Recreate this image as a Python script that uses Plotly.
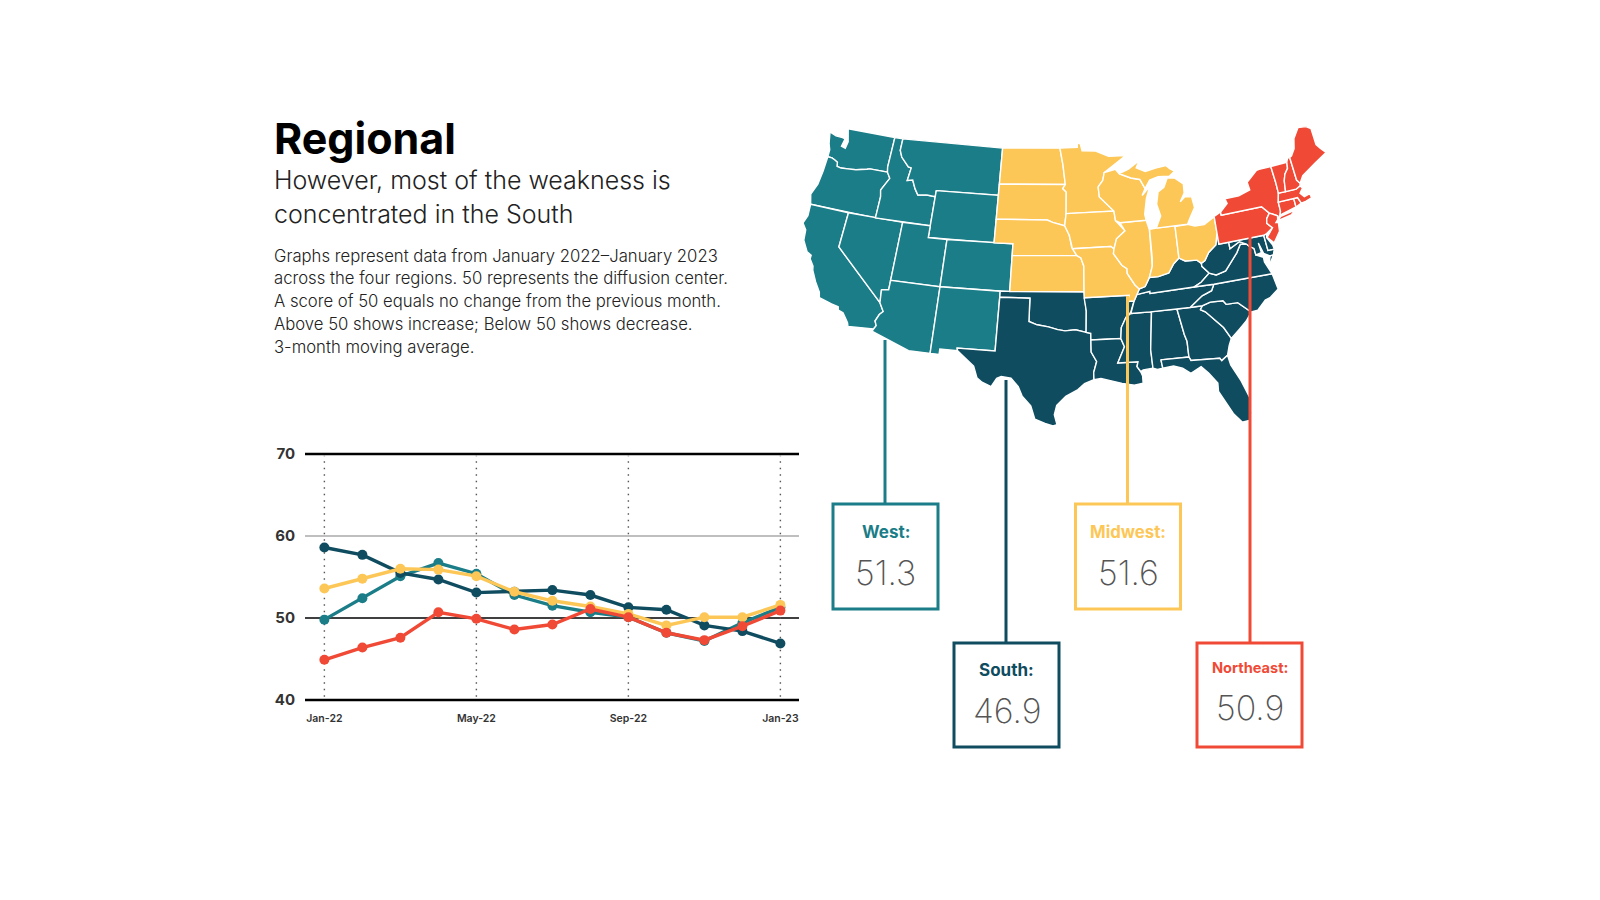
import numpy as np
import plotly.graph_objects as go

# ---------- line chart data ----------
months = ["Jan-22","Feb-22","Mar-22","Apr-22","May-22","Jun-22","Jul-22","Aug-22","Sep-22","Oct-22","Nov-22","Dec-22","Jan-23"]
tick_labels = ["Jan-22","May-22","Sep-22","Jan-23"]
y_ticks = [40,50,60,70]
west = [49.8,52.4,55.1,56.7,55.4,52.8,51.5,50.7,50.1,48.2,47.2,49.4,51.3]
south = [58.6,57.7,55.5,54.7,53.1,53.2,53.4,52.8,51.3,51.0,49.1,48.4,46.9]
midwest = [53.6,54.8,56.0,55.9,55.1,53.2,52.1,51.4,50.5,49.1,50.1,50.1,51.6]
northeast = [44.9,46.4,47.6,50.7,49.9,48.6,49.2,51.1,50.1,48.2,47.3,49.0,50.9]

regions = ["West","South","Midwest","Northeast"]
latest = ["51.3","46.9","51.6","50.9"]
colors = {"West":"#1a7d87","South":"#0f4c60","Midwest":"#fdc757","Northeast":"#f04a36"}

# ---------- state outlines (lon, lat) ----------
WA=[(-124.73,48.38),(-123.9,48.17),(-123.1,48.15),(-122.75,48.1),(-122.9,47.4),(-122.4,47.3),(-122.3,47.9),(-122.5,48.5),(-122.76,49),(-117.03,49),(-117.04,46.42),(-116.92,45.99),(-118.98,46),(-119.3,45.93),(-120.5,45.7),(-121.2,45.65),(-122.2,45.58),(-122.7,45.65),(-122.8,46),(-123.2,46.15),(-123.55,46.26),(-124.05,46.27),(-124.1,46.9),(-124.4,47.4)]
OR=[(-124.05,46.27),(-123.55,46.26),(-123.2,46.15),(-122.8,46),(-122.7,45.65),(-122.2,45.58),(-121.2,45.65),(-120.5,45.7),(-119.3,45.93),(-118.98,46),(-116.92,45.99),(-116.5,45.5),(-116.85,44.95),(-117.2,44.4),(-117.03,43.85),(-117.03,42),(-124.21,42),(-124.55,42.84),(-124.15,43.8),(-124.05,45)]
CA=[(-124.21,42),(-120,42),(-120,39),(-114.63,35),(-114.14,34.3),(-114.45,34),(-114.72,33.4),(-114.52,33.03),(-114.72,32.72),(-117.12,32.53),(-117.25,32.85),(-117.9,33.6),(-118.4,33.75),(-118.5,34.03),(-119.2,34.15),(-120.5,34.45),(-120.65,34.9),(-121.3,35.7),(-121.9,36.6),(-122,36.95),(-122.5,37.5),(-122.5,37.8),(-123,38),(-123.7,38.9),(-123.85,39.8),(-124.35,40.3),(-124.1,41)]
NV=[(-120,42),(-114.04,42),(-114.05,37),(-114.05,36.2),(-114.75,36.1),(-114.63,35),(-120,39)]
ID=[(-117.03,49),(-116.05,49),(-116.05,48),(-115.7,47.45),(-114.7,46.7),(-114.35,46.65),(-114.5,45.55),(-113.9,45.65),(-113.45,44.95),(-113,44.45),(-112,44.54),(-111.05,44.48),(-111.05,42),(-117.03,42),(-117.03,43.85),(-117.2,44.4),(-116.85,44.95),(-116.5,45.5),(-116.92,45.99),(-117.04,46.42)]
MT=[(-116.05,49),(-104.05,49),(-104.05,45),(-111.05,45),(-111.05,44.48),(-112,44.54),(-113,44.45),(-113.45,44.95),(-113.9,45.65),(-114.5,45.55),(-114.35,46.65),(-114.7,46.7),(-115.7,47.45),(-116.05,48)]
WY=[(-111.05,45),(-104.05,45),(-104.05,41),(-111.05,41)]
UT=[(-114.05,42),(-111.05,42),(-111.05,41),(-109.05,41),(-109.05,37),(-114.05,37)]
CO=[(-109.05,41),(-102.05,41),(-102.05,37),(-109.05,37)]
AZ=[(-114.75,36.1),(-114.05,36.2),(-114.05,37),(-109.05,37),(-109.05,31.33),(-111.07,31.33),(-114.81,32.5),(-114.72,32.72),(-114.52,33.03),(-114.72,33.4),(-114.45,34),(-114.14,34.3),(-114.63,35)]
NM=[(-109.05,37),(-103,37),(-103.04,32),(-106.62,32),(-106.53,31.78),(-108.21,31.78),(-108.21,31.33),(-109.05,31.33)]
ND=[(-104.05,49),(-97.23,49),(-96.85,47.6),(-96.56,45.93),(-104.05,45.94)]
SD=[(-104.05,45.94),(-96.56,45.93),(-96.85,45.6),(-96.45,45.3),(-96.45,43.5),(-96.6,42.5),(-97.9,42.8),(-98.5,43),(-104.05,43)]
NE=[(-104.05,43),(-98.5,43),(-97.9,42.8),(-96.6,42.5),(-96.1,41.7),(-95.85,40.7),(-95.31,40),(-102.05,40),(-102.05,41),(-104.05,41)]
KS=[(-102.05,40),(-95.31,40),(-94.9,39.8),(-94.6,39.1),(-94.62,37),(-102.05,37)]
OK=[(-103,37),(-94.62,37),(-94.43,35.4),(-94.48,33.64),(-95.5,33.88),(-96.5,33.8),(-97.2,33.9),(-98.1,34.13),(-99.2,34.3),(-100,34.56),(-100,36.5),(-103,36.5)]
TX=[(-106.62,32),(-103.04,32),(-103,36.5),(-100,36.5),(-100,34.56),(-99.2,34.3),(-98.1,34.13),(-97.2,33.9),(-96.5,33.8),(-95.5,33.88),(-94.48,33.64),(-94.04,33.55),(-94.04,33),(-94.04,32),(-93.55,31.2),(-93.85,30.3),(-93.84,29.7),(-94.7,29.4),(-95.3,28.9),(-96.4,28.35),(-97.2,27.6),(-97.4,26.8),(-97.15,25.96),(-97.5,25.85),(-98.2,26.05),(-99.1,26.4),(-99.5,27.5),(-100.3,28.3),(-100.7,29.1),(-101.4,29.77),(-102.3,29.88),(-102.7,29.7),(-103.15,28.98),(-104,29.3),(-104.5,29.65),(-104.9,30.6),(-106,31.4),(-106.53,31.78)]
MN=[(-97.23,49),(-95.15,49),(-95.15,49.38),(-94.8,49.3),(-94.6,48.7),(-93,48.6),(-91.5,48.07),(-89.5,48),(-92.1,46.75),(-92.3,46.1),(-92.85,45.6),(-92.75,44.75),(-91.22,43.5),(-96.45,43.5),(-96.45,45.3),(-96.85,45.6),(-96.56,45.93),(-96.85,47.6)]
IA=[(-96.45,43.5),(-91.22,43.5),(-91.1,42.7),(-90.15,41.8),(-91.1,41.2),(-91.42,40.38),(-91.73,40.61),(-95.77,40.58),(-96.1,41.7),(-96.6,42.5)]
MO=[(-95.77,40.58),(-91.73,40.61),(-91.42,40.38),(-91.5,40),(-90.7,39),(-90.2,38.7),(-90.2,38.3),(-89.5,37.3),(-89.1,36.95),(-89.4,36.5),(-89.7,36),(-90.37,36),(-90.15,36.5),(-94.62,36.5),(-94.62,37),(-94.6,39.1),(-94.9,39.8),(-95.31,40)]
AR=[(-94.62,36.5),(-90.15,36.5),(-90.37,36),(-89.7,36),(-90.1,35.1),(-90.6,34.7),(-91.1,33.9),(-91.2,33),(-94.04,33),(-94.04,33.55),(-94.48,33.64),(-94.43,35.4)]
LA=[(-94.04,33),(-91.2,33),(-90.9,32.3),(-91.6,31),(-89.73,31),(-89.85,30.6),(-89.55,30.18),(-89.4,29.8),(-89.4,29.2),(-90.2,29.1),(-91.3,29.3),(-92.2,29.55),(-93.2,29.78),(-93.84,29.7),(-93.85,30.3),(-93.55,31.2),(-94.04,32)]
MS=[(-90.1,35),(-88.2,35),(-88.1,34.9),(-88.47,31.9),(-88.4,30.37),(-89.3,30.3),(-89.55,30.18),(-89.85,30.6),(-89.73,31),(-91.6,31),(-90.9,32.3),(-91.2,33),(-91.1,33.9),(-90.6,34.7)]
AL=[(-88.2,35),(-85.6,35),(-85.18,32.87),(-85,32.3),(-85,31),(-87.6,31),(-87.5,30.3),(-88,30.25),(-88.4,30.37),(-88.47,31.9),(-88.1,34.9)]
GA=[(-85.6,35),(-83.1,35),(-83.35,34.7),(-82.9,34.48),(-81.9,33.5),(-81.4,33),(-80.85,32.03),(-81.15,31.5),(-81.45,30.72),(-82.05,30.36),(-82.2,30.57),(-84.86,30.7),(-85,31),(-85,32.3),(-85.18,32.87)]
FL=[(-87.6,31),(-85,31),(-84.86,30.7),(-82.2,30.57),(-82.05,30.36),(-81.45,30.72),(-81.3,29.9),(-80.6,28.5),(-80.05,26.9),(-80.15,25.75),(-80.4,25.2),(-81.1,25.15),(-81.75,25.95),(-82.2,26.9),(-82.75,27.9),(-82.7,28.6),(-83.4,29.5),(-84,30.1),(-85,29.65),(-85.7,30.15),(-86.5,30.4),(-87.5,30.3)]
SC=[(-83.35,34.7),(-83.1,35),(-82.3,35.2),(-81.05,35.15),(-80.8,34.82),(-79.67,34.8),(-78.55,33.86),(-79.2,33.2),(-79.9,32.7),(-80.85,32.03),(-81.4,33),(-81.9,33.5),(-82.9,34.48)]
NC=[(-84.32,34.99),(-83.1,35),(-82.3,35.2),(-81.05,35.15),(-80.8,34.82),(-79.67,34.8),(-78.55,33.86),(-77.9,33.9),(-77,34.6),(-76.5,34.7),(-75.55,35.25),(-75.8,36.55),(-81.68,36.59),(-82,36.1),(-83,35.8)]
TN=[(-90.1,35),(-88.2,35),(-84.32,34.99),(-83,35.8),(-82,36.1),(-81.68,36.59),(-83.68,36.6),(-88.07,36.5),(-88.07,36.68),(-89.4,36.5),(-89.7,36)]
KY=[(-89.4,36.5),(-88.07,36.68),(-88.07,36.5),(-83.68,36.6),(-82.9,36.9),(-81.97,37.54),(-82.6,38.17),(-82.6,38.42),(-83,38.73),(-84.2,38.8),(-84.8,39.1),(-85.4,38.7),(-86,38),(-87.1,37.8),(-88,37.8),(-88.5,37.1),(-89.1,36.95)]
VA=[(-83.68,36.6),(-81.68,36.59),(-75.8,36.55),(-76,37),(-76.3,37.6),(-76.3,38),(-77,38.3),(-77.05,38.85),(-77.5,39.1),(-77.72,39.32),(-78.35,39.4),(-78.87,38.77),(-79.3,38.4),(-80.3,37.5),(-81.3,37.3),(-81.97,37.54),(-82.9,36.9)]
VA_SHORE=[(-75.95,37.15),(-75.25,38.03),(-75.62,37.99)]
WV=[(-82.6,38.42),(-82.6,38.17),(-81.97,37.54),(-81.3,37.3),(-80.3,37.5),(-79.3,38.4),(-78.87,38.77),(-78.35,39.4),(-77.72,39.32),(-78.4,39.62),(-79.48,39.2),(-79.48,39.72),(-80.52,39.72),(-80.52,40.64),(-80.85,39.7),(-81.7,39.2),(-82.2,38.6)]
MD=[(-79.48,39.72),(-75.79,39.72),(-75.7,38.46),(-75.05,38.45),(-75.25,38.03),(-75.62,37.99),(-76.2,38.3),(-76.5,39.2),(-76.4,38.4),(-77,38.3),(-77.05,38.85),(-77.5,39.1),(-77.72,39.32),(-78.4,39.62),(-79.48,39.2)]
DE=[(-75.79,39.72),(-75.45,39.8),(-75.55,39.5),(-75.1,38.8),(-75.05,38.45),(-75.7,38.46)]
IL=[(-90.64,42.5),(-87.8,42.5),(-87.55,41.7),(-87.53,39.35),(-87.6,38.7),(-88,37.8),(-88.5,37.1),(-89.1,36.95),(-89.5,37.3),(-90.2,38.3),(-90.2,38.7),(-90.7,39),(-91.5,40),(-91.42,40.38),(-91.1,41.2),(-90.15,41.8)]
WI=[(-92.85,45.6),(-92.3,46.1),(-92.1,46.75),(-90.8,46.95),(-90.4,46.55),(-89.1,46.1),(-88.1,45.9),(-87.8,45.35),(-87.6,45.1),(-88,44.55),(-87.05,45.25),(-87.55,44.3),(-87.9,43),(-87.8,42.5),(-90.64,42.5),(-91.1,42.7),(-91.22,43.5),(-92.75,44.75)]
IN=[(-87.53,41.72),(-87.2,41.76),(-86.8,41.76),(-84.8,41.76),(-84.8,39.1),(-85.4,38.7),(-86,38),(-87.1,37.8),(-88,37.8),(-87.6,38.7),(-87.53,39.35)]
OH=[(-84.8,41.7),(-83.45,41.73),(-82.7,41.5),(-81.7,41.5),(-80.52,41.98),(-80.52,40.64),(-80.85,39.7),(-81.7,39.2),(-82.2,38.6),(-82.6,38.42),(-83,38.73),(-84.2,38.8),(-84.8,39.1)]
MI_LOWER=[(-86.8,41.76),(-84.8,41.76),(-83.45,41.73),(-83.1,42.2),(-82.45,43),(-82.6,43.9),(-83.3,44),(-83.9,43.65),(-83.35,44.3),(-83.3,45.05),(-84.2,45.65),(-85,45.75),(-85.5,45),(-86.2,44.7),(-86.5,43.7),(-86.2,42.7)]
MI_UPPER=[(-90.4,46.55),(-89.1,46.1),(-88.1,45.9),(-87.6,45.1),(-87,45.75),(-86,45.95),(-84.75,45.85),(-84.1,46.2),(-84.6,46.47),(-85,46.77),(-86.2,46.67),(-87.4,46.5),(-88.4,46.9),(-88,47.45),(-89.3,46.85)]
PA=[(-80.52,42),(-79.76,42.27),(-79.76,42),(-75.35,42),(-74.7,41.36),(-75.1,40.97),(-75.2,40.6),(-74.72,40.15),(-75.45,39.8),(-75.79,39.72),(-80.52,39.72)]
NY=[(-79.76,42),(-79.76,42.27),(-78.9,42.85),(-79.05,43.26),(-77.5,43.27),(-76.2,43.55),(-76.3,44.2),(-75,44.97),(-74.7,45),(-73.35,45),(-73.25,43.6),(-73.25,42.75),(-73.5,42.05),(-73.5,41.3),(-73.65,41),(-74,40.7),(-73.92,41),(-74.7,41.36),(-75.35,42)]
LONG_ISLAND=[(-74,40.6),(-73.6,40.9),(-72,41.1),(-72.5,40.8)]
NJ=[(-74.7,41.36),(-73.92,41),(-74,40.7),(-74.25,40.5),(-74,40.45),(-74.1,39.75),(-74.9,38.95),(-75.5,39.5),(-74.72,40.15),(-75.2,40.6),(-75.1,40.97)]
CT=[(-73.5,42.05),(-71.8,42.02),(-71.8,41.32),(-73.65,41),(-73.5,41.3)]
RI=[(-71.8,42.02),(-71.38,42.02),(-71.15,41.5),(-71.8,41.32)]
MA=[(-73.25,42.75),(-71.3,42.7),(-70.8,42.87),(-70.6,42.65),(-71,42.3),(-70.65,41.95),(-70,42.05),(-69.95,41.7),(-70.65,41.55),(-71.15,41.5),(-71.38,42.02),(-71.8,42.02),(-73.5,42.05)]
VT=[(-73.35,45),(-71.5,45),(-71.6,44.5),(-72.05,44.1),(-72.3,43.6),(-72.46,42.73),(-73.25,42.75),(-73.25,43.6)]
NH=[(-71.5,45),(-71.3,45.3),(-71.05,45.3),(-70.98,43.4),(-70.7,43.07),(-70.8,42.87),(-71.3,42.7),(-72.46,42.73),(-72.3,43.6),(-72.05,44.1),(-71.6,44.5)]
ME=[(-71.05,45.3),(-70.8,45.4),(-70.3,45.9),(-70,46.7),(-69.2,47.45),(-68.3,47.35),(-67.8,47.07),(-67.8,45.7),(-67.45,45.3),(-67,44.85),(-68.5,44.3),(-69.2,44),(-70.2,43.6),(-70.7,43.07),(-70.98,43.4)]

west_states=[WA,OR,CA,NV,ID,MT,WY,UT,CO,AZ,NM]
midwest_states=[ND,SD,NE,KS,MN,IA,MO,IL,WI,IN,OH,MI_LOWER,MI_UPPER]
south_states=[OK,TX,AR,LA,MS,AL,GA,FL,SC,NC,TN,KY,VA,VA_SHORE,WV,MD,DE]
northeast_states=[PA,NY,LONG_ISLAND,NJ,CT,RI,MA,VT,NH,ME]
region_states={"West":west_states,"South":south_states,"Midwest":midwest_states,"Northeast":northeast_states}

# ---------- layout (pixels of the 1600x900 page) ----------
W,H=1600,900
def px(x): return x/W
def py(y): return 1-y/H

def project(points):
    """Albers conic, lifted towards the north-east as the reference map is."""
    raw=np.array(points,dtype=float)
    a=np.radians(raw)
    lon,lat=a[:,0],a[:,1]
    p1,p2,lat0,lon0=np.radians([29.5,45.5,37.5,-96])
    n=(np.sin(p1)+np.sin(p2))/2
    c=np.cos(p1)**2+2*n*np.sin(p1)
    rho=np.sqrt(c-2*n*np.sin(lat))/n
    rho0=np.sqrt(c-2*n*np.sin(lat0))/n
    th=n*(lon-lon0)
    x,y=rho*np.sin(th),rho0-rho*np.cos(th)
    east=np.clip((x+0.37)/0.74,0,1)
    north=np.clip((raw[:,1]-25)/24,0,1)
    return x,y+0.035*east*north

fig=go.Figure()

# map
allx,ally=[],[]
for r in regions:
    for s in region_states[r]:
        x,y=project(s)
        allx+=list(x); ally+=list(y)
        fig.add_trace(go.Scatter(x=list(x)+[x[0]],y=list(y)+[y[0]],mode="lines",fill="toself",
            fillcolor=colors[r],line=dict(color="white",width=1.4),xaxis="x2",yaxis="y2",hoverinfo="skip"))

# lines
for r,v in zip(regions,[west,south,midwest,northeast]):
    fig.add_trace(go.Scatter(x=months,y=v,mode="lines+markers",name=r,cliponaxis=False,
        line=dict(color=colors[r],width=3.4),marker=dict(color=colors[r],size=10),hoverinfo="skip"))

shapes=[]
for val,col,w_ in [(70,"#000",2.4),(60,"#aaaaaa",1.3),(50,"#000",1.3),(40,"#000",2.4)]:
    shapes.append(dict(type="line",xref="x domain",yref="y",x0=0,x1=1,y0=val,y1=val,
        line=dict(color=col,width=w_),layer="below"))
for t in tick_labels:
    shapes.append(dict(type="line",xref="x",yref="y",x0=t,x1=t,y0=40.4,y1=69.8,
        line=dict(color="#555555",width=1.4,dash="1.5px,5px"),layer="below"))

ann=[]
def text(x,y,s,size,color="#111",family="Inter",weight=400,anchor="left"):
    ann.append(dict(xref="paper",yref="paper",x=px(x),y=py(y),text=s,showarrow=False,xanchor=anchor,yanchor="middle",
        align=anchor,font=dict(size=size,color=color,family=family,weight=weight)))

text(272,138.5,"Regional",43,"#000","Inter",700)
text(272,180,"However, most of the weakness is",25,"#222","Inter",300)
text(272,214,"concentrated in the South",25,"#222","Inter",300)
body=["Graphs represent data from January 2022–January 2023","across the four regions. 50 represents the diffusion center.",
      "A score of 50 equals no change from the previous month.","Above 50 shows increase; Below 50 shows decrease.","3-month moving average."]
for yy,l in zip([256,278.5,301,323.5,346.5],body):
    text(272,yy,l,16.7,"#222","Inter",300)

boxes={"West":(833,938,504,609,885,340,532,572),"South":(954,1059,643,747,1006,380,670,710),
       "Midwest":(1075.5,1180.5,504,609,1127.5,296,532,572),"Northeast":(1197,1302,643,747,1250,237,668,707)}
label_sizes={"West":17,"South":17,"Midwest":16.8,"Northeast":14.6}
for r,val in zip(regions,latest):
    x0,x1,y0,y1,cx,top,ly,vy=boxes[r]
    shapes.append(dict(type="line",xref="paper",yref="paper",x0=px(cx),x1=px(cx),y0=py(top),y1=py(y0),
        line=dict(color=colors[r],width=3)))
    shapes.append(dict(type="rect",xref="paper",yref="paper",x0=px(x0),x1=px(x1),y0=py(y0),y1=py(y1),
        line=dict(color=colors[r],width=3),fillcolor="white"))
    mid=(x0+x1)/2
    text(mid,ly,r+":",label_sizes[r],colors[r],"Inter",700,"center")
    text(mid,vy,val,34,"#555555","Inter",200,"center")

YPAD=0.5  # axis units kept beyond 40 and 70 so the heavy rules are not clipped
UNIT=(700-454)/30
fig.update_layout(template="none",width=W,height=H,autosize=False,margin=dict(l=0,r=0,t=0,b=0,pad=0),paper_bgcolor="white",plot_bgcolor="rgba(0,0,0,0)",
    showlegend=False,hovermode=False,shapes=shapes,annotations=ann,
    xaxis=dict(domain=[px(305),px(799)],type="category",categoryorder="array",categoryarray=months,automargin=False,
        range=[-0.51,12.49],tickmode="array",tickvals=tick_labels,ticktext=tick_labels,showline=False,zeroline=False,
        showgrid=False,ticks="",ticklen=0,
        tickfont=dict(size=10.5,family="Inter",color="#333",weight=600),ticklabelstandoff=6),
    yaxis=dict(domain=[py(700+YPAD*UNIT),py(454-YPAD*UNIT)],range=[40-YPAD,70+YPAD],tickmode="array",tickvals=y_ticks,showgrid=False,zeroline=False,automargin=False,
        showline=False,ticks="",tickfont=dict(size=15,family="Inter",color="#333",weight=700),ticklabelstandoff=9),
    xaxis2=dict(domain=[px(803),px(1326)],range=[min(allx),max(allx)],visible=False,anchor="y2",automargin=False),
    yaxis2=dict(domain=[py(426),py(126.5)],range=[min(ally),max(ally)],visible=False,anchor="x2",automargin=False))
fig.write_html("out.html",config=dict(displayModeBar=False),post_script="document.body.style.margin='0';")
